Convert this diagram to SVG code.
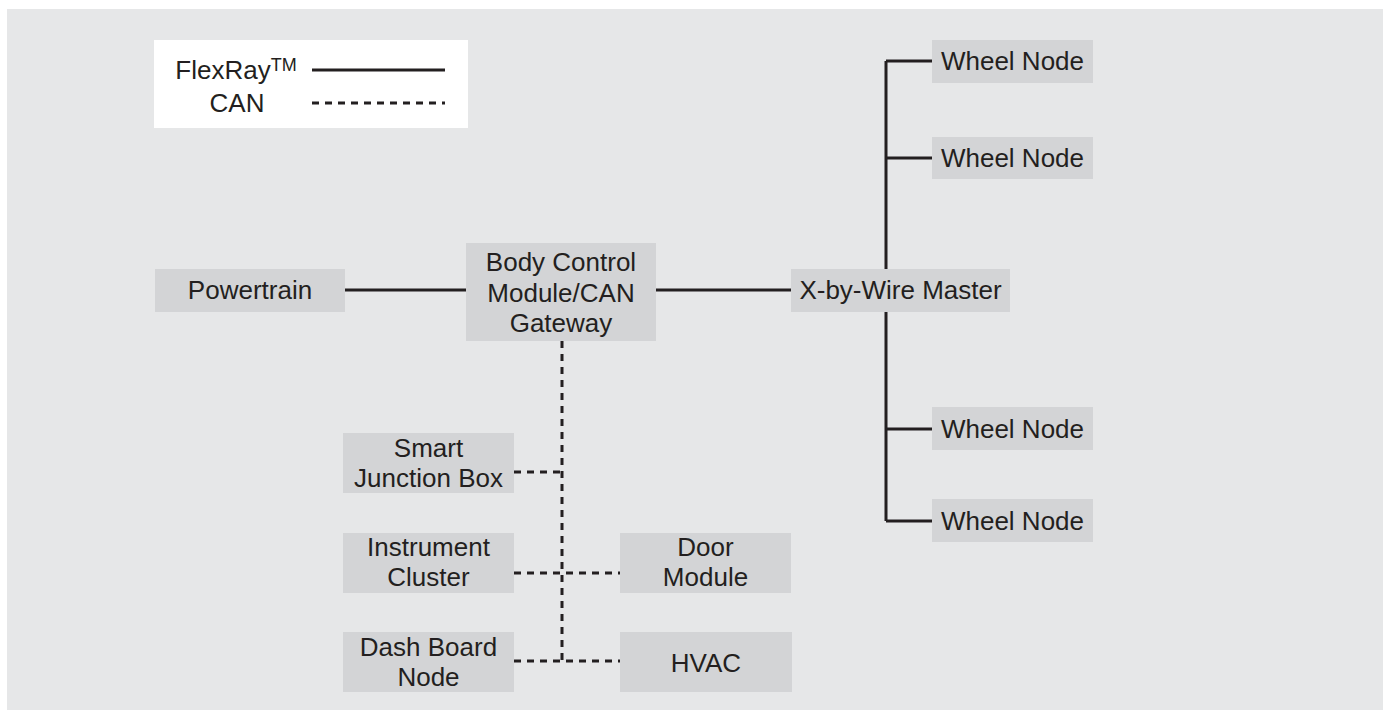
<svg xmlns="http://www.w3.org/2000/svg" width="1384" height="711" viewBox="0 0 1384 711">
<style>
.box{fill:#d3d4d6}
.t{font-family:"Liberation Sans",Arial,sans-serif;font-size:26px;fill:#231f20;text-anchor:middle}
.solid{stroke:#231f20;stroke-width:3;fill:none}
.dash{stroke:#231f20;stroke-width:3;fill:none;stroke-dasharray:7 6}
</style>
<rect x="0" y="0" width="1384" height="711" fill="#ffffff"/>
<rect x="7" y="9" width="1376" height="701" fill="#e6e7e8"/>
<g id="legend">
<rect x="154" y="40" width="314" height="88" fill="#ffffff"/>
<text class="t" x="236" y="79">FlexRay<tspan font-size="18" dy="-8">TM</tspan></text>
<text class="t" x="237" y="112">CAN</text>
<path class="solid" d="M312 70H445"/>
<path class="dash" d="M312 103H445"/>
</g>
<g id="connectors">
<path class="solid" d="M345 290H466M656 290H791M886 61V521M886 61H932M886 158H932M886 429H932M886 521H932"/>
<path class="dash" d="M562 341V661M514 472H562M514 573H620M514 661H620"/>
</g>
<g id="powertrain"><rect class="box" x="155" y="269" width="190" height="43"/><text class="t" x="250" y="299">Powertrain</text></g>
<g id="bcm"><rect class="box" x="466" y="243" width="190" height="98"/><text class="t" x="561" y="271">Body Control</text><text class="t" x="561" y="302">Module/CAN</text><text class="t" x="561" y="332">Gateway</text></g>
<g id="xbw"><rect class="box" x="791" y="269" width="219" height="43"/><text class="t" x="900.5" y="299">X-by-Wire Master</text></g>
<g id="wheel1"><rect class="box" x="932" y="40" width="161" height="43"/><text class="t" x="1012.5" y="70">Wheel Node</text></g>
<g id="wheel2"><rect class="box" x="932" y="137" width="161" height="42"/><text class="t" x="1012.5" y="167">Wheel Node</text></g>
<g id="wheel3"><rect class="box" x="932" y="407" width="161" height="43"/><text class="t" x="1012.5" y="438">Wheel Node</text></g>
<g id="wheel4"><rect class="box" x="932" y="499" width="161" height="43"/><text class="t" x="1012.5" y="530">Wheel Node</text></g>
<g id="sjb"><rect class="box" x="343" y="433" width="171" height="60"/><text class="t" x="428.5" y="457">Smart</text><text class="t" x="428.5" y="487">Junction Box</text></g>
<g id="ic"><rect class="box" x="343" y="533" width="171" height="60"/><text class="t" x="428.5" y="556">Instrument</text><text class="t" x="428.5" y="586">Cluster</text></g>
<g id="dbn"><rect class="box" x="343" y="632" width="171" height="60"/><text class="t" x="428.5" y="656">Dash Board</text><text class="t" x="428.5" y="686">Node</text></g>
<g id="door"><rect class="box" x="620" y="533" width="171" height="60"/><text class="t" x="705.5" y="556">Door</text><text class="t" x="705.5" y="586">Module</text></g>
<g id="hvac"><rect class="box" x="620" y="632" width="172" height="60"/><text class="t" x="706" y="672">HVAC</text></g>
</svg>
